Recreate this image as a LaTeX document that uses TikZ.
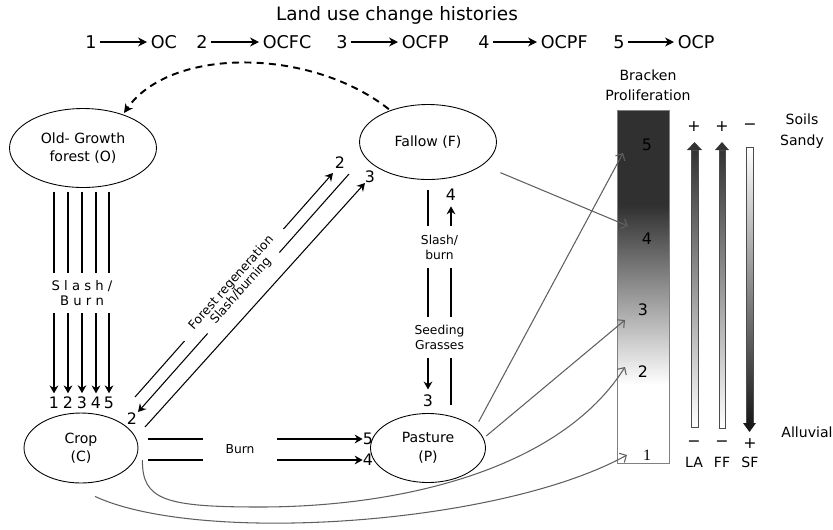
\documentclass[tikz,border=0pt]{standalone}
\usepackage{fontspec}
\setmainfont{DejaVu Sans}
\newfontfamily\barserif{Liberation Serif}
\usetikzlibrary{shapes.geometric}
\usetikzlibrary{positioning}
\usetikzlibrary{calc}
\usetikzlibrary{arrows.meta}
\definecolor{arrowgray}{RGB}{95,95,95}
\definecolor{bardark}{RGB}{48,48,48}

\begin{document}
\begin{tikzpicture}[x=0.02cm, y=-0.02cm,
  landuse/.style={draw, ellipse, line width=0.5pt, inner sep=0pt, align=center,
    font=\fontsize{8}{10.5}\selectfont},
  flow/.style={line width=0.6pt, -{Stealth[length=4.5pt, width=5pt, inset=1.5pt]}},
  cut/.style={line width=0.6pt},
  histarrow/.style={line width=1pt, -{Stealth[length=5pt, width=5pt, inset=1.5pt]}},
  toscale/.style={draw=arrowgray, line width=0.6pt, -{Straight Barb[length=3pt, width=6pt]}},
  lbl/.style={font=\fontsize{7}{8.5}\selectfont, align=center, inner sep=0pt},
  num/.style={font=\fontsize{9}{10}\selectfont, inner sep=0pt},
  hist/.style={font=\fontsize{10}{12}\selectfont, inner sep=2pt},
  side/.style={font=\fontsize{8}{10}\selectfont, align=center, inner sep=0pt},
]
\useasboundingbox (0,0) rectangle (833,529);

%---------------------------------------
% Title and histories
%---------------------------------------
\node[font=\fontsize{10.5}{12}\selectfont] (title) at (397,15) {Land use change histories};

\foreach \n/\xs/\xl/\lab in {1/91/147/OC, 2/202/259/OCFC, 3/342/398/OCFP, 4/484/537/OCPF, 5/619/674/OCP}{
  \node[hist] (h\n) at (\xs,42) {\n};
  \node[hist, anchor=west] (hl\n) at (\xl,42) {\lab};
  \draw[histarrow] (h\n) -- (hl\n);
}

%---------------------------------------
% Land uses
%---------------------------------------
\node[landuse, minimum width=2.94cm, minimum height=1.58cm] (oldg) at (83,148) {Old- Growth\\forest (O)};
\node[landuse, minimum width=2.74cm, minimum height=1.5cm] (fallow) at (428,142) {Fallow (F)};
\node[landuse, minimum width=2.28cm, minimum height=1.4cm] (crop) at (81,448) {Crop\\(C)};
\node[landuse, minimum width=2.3cm, minimum height=1.38cm] (pasture) at (428,448) {Pasture\\(P)};

% ---- Fallow back to forest ----
\draw[line width=1.1pt, dash pattern=on 4pt off 3pt, -{Stealth[length=5pt, width=5pt, inset=1.5pt]},
      shorten <=1pt, shorten >=1pt]
  (fallow.140) .. controls (310,47) and (170,47) .. (oldg.40);

% ---- Slash / burn of the forest ----
\node[lbl, font=\fontsize{7.5}{9}\selectfont, minimum height=0.8cm] (slashburn) at (82,293) {S l a s h /\\B u r n};
\foreach \k/\xx in {1/54,2/68,3/82,4/96,5/109}{
  \node[num] (o\k) at (\xx,403) {\k};
  \draw[cut] (o\k |- oldg.south) ++(0,4) -- (o\k |- slashburn.north);
  \draw[flow, shorten >=2pt] (o\k |- slashburn.south) -- (o\k.north);
}

% ---- Crop <-> Fallow ----
\node[num] (c2) at (132,419) {2};
\node[num] (f2) at (340,163) {2};
\node[num] (f3) at (370,177) {3};
\coordinate (regenA) at (135,397);
\coordinate (regenB) at (333,173);
\coordinate (burningA) at (349,174);
\coordinate (burningB) at (138,412);
\coordinate (cfA) at (145,427);
\coordinate (cfB) at (365,183);

\node[lbl, rotate=48.5, anchor=base, inner ysep=1pt] (regen) at ($(regenA)!0.5!(regenB)$) {Forest regeneration};
\draw[cut] (regenA) -- ($(regenA)!0.25!(regenB)$);
\draw[flow] ($(regenA)!0.75!(regenB)$) -- (regenB);

\node[lbl, rotate=48.5, anchor=base, inner ysep=1pt] (burning) at ($(burningA)!0.5!(burningB)$) {Slash/burning};
\draw[cut] (burningA) -- ($(burningA)!0.33!(burningB)$);
\draw[flow] ($(burningA)!0.67!(burningB)$) -- (burningB);

\draw[flow] (cfA) -- (cfB);

% ---- Fallow <-> Pasture ----
\node[lbl, minimum height=0.84cm] (slashburn2) at (439.5,247) {Slash/\\burn};
\node[lbl, minimum height=0.82cm] (seeding) at (439.5,337.5) {Seeding\\Grasses};
\node[num] (p3) at (428,401) {3};
\node[num] (f4) at (451,195) {4};
\coordinate (fpleft) at (428,190);
\coordinate (fpright) at (451,405);
\draw[cut] (fpleft) -- (fpleft |- slashburn2.north);
\draw[cut] (fpleft |- slashburn2.south) -- (fpleft |- seeding.north);
\draw[flow, shorten >=3pt] (fpleft |- seeding.south) -- (p3.north);
\draw[cut] (fpright) -- (fpright |- seeding.south);
\draw[cut] (fpright |- seeding.north) -- (fpright |- slashburn2.south);
\draw[flow, shorten >=3pt] (fpright |- slashburn2.north) -- (f4.south);

% ---- Crop -> Pasture ----
\node[lbl, minimum width=1.48cm] (burn) at (240,449.5) {Burn};
\node[num] (p5) at (368,439) {5};
\node[num] (p4) at (368,460) {4};
\coordinate (cb5) at (148,439);
\coordinate (cb4) at (148,460);
\draw[cut] (cb5) -- (cb5 -| burn.west);
\draw[flow] (cb5 -| burn.east) -- (p5.west);
\draw[cut] (cb4) -- (cb4 -| burn.west);
\draw[flow] (cb4 -| burn.east) -- (p4.west);

%====================================================
% Bracken proliferation scale
%====================================================
\node[side] (bracken) at (648,75) {Bracken};
\node[side] (prolif) at (648,95) {Proliferation};

\fill[bardark] (617,110) rectangle (669,206);
\shade[top color=bardark, bottom color=white] (617,205) rectangle (669,385);
\draw[gray, line width=0.5pt] (617,110) rectangle (669,463);

\node[num] (bar5) at (647,145) {5};
\node[num] (bar4) at (647,239) {4};
\node[num] (bar3) at (643,310) {3};
\node[num] (bar2) at (643,372) {2};
\node[inner sep=0pt, font=\barserif\fontsize{9}{10}\selectfont] (bar1) at (647,455) {1};

\coordinate (b5) at (623,153);
\coordinate (b4) at (628,226);
\coordinate (b3) at (625,320);
\coordinate (b2) at (625,367);
\coordinate (b1) at (627,455);

% ---- Links to the scale ----
\draw[toscale, shorten <=4pt] (pasture.23) -- (b5);
\draw[toscale, shorten <=2pt] (pasture.10) -- (b3);
\draw[toscale, shorten <=11pt] (fallow.-23) -- (b4);
\draw[toscale] ($(crop.east)+(4,12)$) .. controls (142,500) and (165,507) .. (260,507)
  .. controls (400,507) and (560,470) .. (b2);
\draw[toscale] ($(crop.south)+(14,13)$) .. controls (200,545) and (500,525) .. (b1);

%====================================================
% Soil factors
%====================================================
% LA
\shade[top color=black!80, bottom color=white, draw=black!70, line width=0.4pt] (691,150) rectangle (698,427);
\fill[black!80] (687,150) -- (694.5,142) -- (702,150) -- cycle;
% FF
\shade[top color=black!80, bottom color=white, draw=black!70, line width=0.4pt] (719,150) rectangle (725,428);
\fill[black!80] (715,150) -- (722,142) -- (729,150) -- cycle;
% SF
\shade[top color=white, bottom color=black!90, draw=black!70, line width=0.4pt] (746,147) rectangle (753,423);
\fill[black!90] (743,423) -- (749.5,432) -- (756,423) -- cycle;

\node[num] (laplus) at (694,127) {+};
\node[num] (ffplus) at (722,127) {+};
\node[num] (sfminus) at (750,127) {−};
\node[num] (laminus) at (694,444) {−};
\node[num] (ffminus) at (722,444) {−};
\node[num] (sfplus) at (750,444) {+};
\node[side] (la) at (694,462) {LA};
\node[side] (ff) at (722,462) {FF};
\node[side] (sf) at (750,462) {SF};

\node[side] (soils) at (802,119) {Soils};
\node[side] (sandy) at (802,142) {Sandy};
\node[side] (alluvial) at (807,432) {Alluvial};

\end{tikzpicture}
\end{document}
